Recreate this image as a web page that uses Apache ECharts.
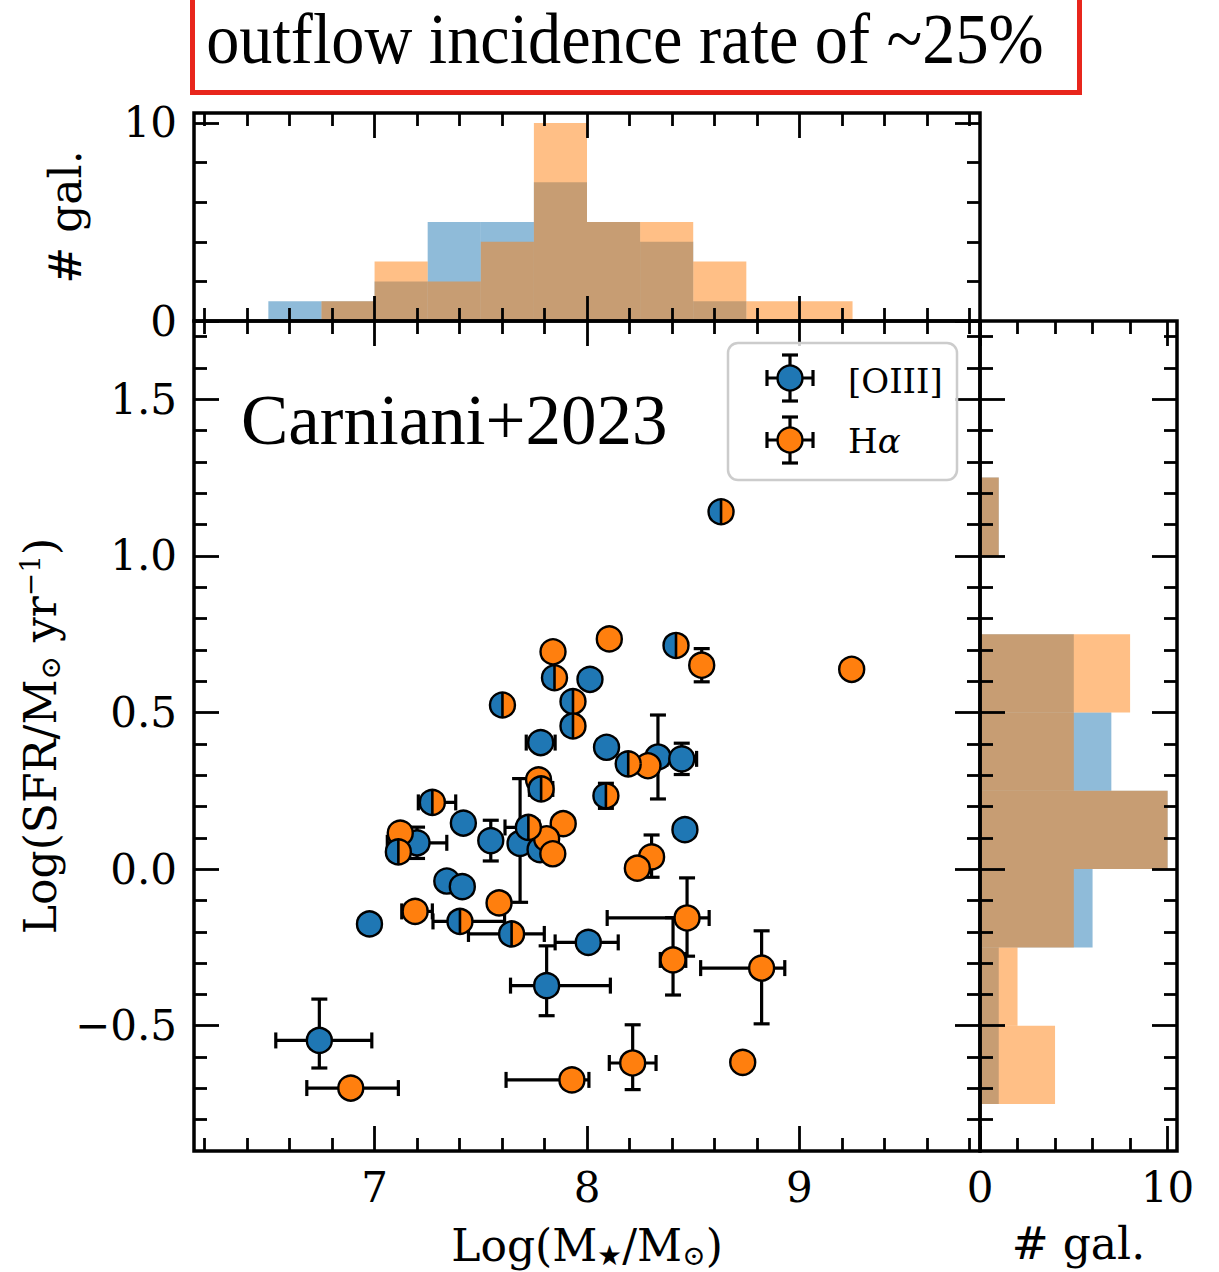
<!DOCTYPE html>
<html><head><meta charset="utf-8">
<script src="https://cdn.jsdelivr.net/npm/echarts@6/dist/echarts.min.js"></script>
<style>html,body{margin:0;padding:0;background:#fff}#c{width:1219px;height:1272px}</style>
</head><body><div id="c"></div>
<script>
// ---------------- data ----------------
// [OIII]-only points
const oiiiX = [8.014, 7.782, 8.092, 8.334, 8.446, 8.461, 7.418, 7.547, 7.685, 7.200, 7.340, 7.413, 6.976, 8.006, 7.810, 6.740, 7.779];
const oiiiY = [0.606, 0.404, 0.389, 0.358, 0.352, 0.126, 0.147, 0.091, 0.082, 0.084, -0.038, -0.056, -0.175, -0.234, -0.372, -0.547, 0.062];
const oiiiXErr = [[0,0],[0.068,0.068],[0,0],[0,0],[0.07,0.07],[0,0],[0,0],[0,0],[0,0],[0.14,0.14],[0,0],[0,0],[0,0],[0.156,0.141],[0.17,0.30],[0.205,0.247],[0,0]];
const oiiiYErr = [[0,0],[0,0],[0,0],[0.134,0.134],[0.05,0.05],[0,0],[0,0],[0.065,0.065],[0.188,0.207],[0.05,0.05],[0,0],[0,0],[0,0],[0,0],[0.096,0.127],[0.088,0.132],[0,0]];
// Halpha-only points
const haX = [9.246, 8.540, 8.105, 7.840, 7.772, 8.287, 7.888, 7.810, 7.839, 7.121, 8.304, 8.237, 7.586, 7.191, 8.471, 8.405, 8.822, 8.215, 8.733, 7.929, 6.888];
const haY = [0.638, 0.651, 0.735, 0.694, 0.285, 0.330, 0.145, 0.097, 0.049, 0.115, 0.039, 0.003, -0.108, -0.135, -0.156, -0.290, -0.316, -0.619, -0.617, -0.673, -0.699];
const haXErr = [[0,0],[0,0],[0,0],[0,0],[0,0],[0,0],[0,0],[0,0],[0,0],[0,0],[0,0],[0,0],[0,0],[0.063,0.081],[0.376,0.104],[0.06,0.06],[0.287,0.109],[0.11,0.11],[0,0],[0.31,0.08],[0.207,0.224]];
const haYErr = [[0,0],[0.053,0.053],[0,0],[0,0],[0,0],[0,0],[0,0],[0,0],[0,0],[0,0],[0.065,0.07],[0,0],[0,0],[0,0],[0.122,0.128],[0.112,0.135],[0.178,0.119],[0.085,0.122],[0,0],[0,0],[0,0]];
// points with both [OIII] and Halpha outflows (half-filled markers)
const bothX = [8.631, 8.419, 7.847, 7.934, 7.934, 7.602, 7.784, 8.194, 8.089, 7.272, 7.724, 7.112, 7.402, 7.645];
const bothY = [1.141, 0.714, 0.611, 0.535, 0.457, 0.524, 0.256, 0.336, 0.234, 0.213, 0.133, 0.055, -0.167, -0.207];
const bothXErr = [[0,0],[0,0],[0,0],[0,0],[0,0],[0,0],[0.055,0.055],[0,0],[0,0],[0.066,0.11],[0.11,0.05],[0,0],[0.127,0.21],[0.203,0.154]];
const bothYErr = [[0,0],[0,0],[0,0],[0,0],[0,0],[0,0],[0,0],[0,0],[0.04,0.04],[0,0],[0,0],[0,0],[0,0],[0,0]];

// histograms
const massBinEdges = [6.5, 6.75, 7.0, 7.25, 7.5, 7.75, 8.0, 8.25, 8.5, 8.75, 9.0, 9.25];
const oiiiMassCounts = [1, 1, 2, 5, 5, 7, 5, 4, 1, 0, 0];
const haMassCounts   = [0, 1, 3, 2, 4, 10, 5, 5, 3, 1, 1];
const sfrBinEdges = [-0.75, -0.5, -0.25, 0, 0.25, 0.5, 0.75, 1.0, 1.25];
const oiiiSfrCounts = [1, 1, 6, 10, 7, 5, 0, 1];
const haSfrCounts   = [4, 2, 5, 10, 5, 8, 0, 1];

// axes / ticks
const massRange = [6.15, 9.85];
const sfrRange = [-0.9, 1.75];
const countRange = [0, 10.5];
const massTicks = [7, 8, 9];
const sfrTicks = [-0.5, 0, 0.5, 1.0, 1.5];
const countTicks = [0, 10];
const countMinorTicks = [2, 4, 6, 8];

const titleText = 'outflow incidence rate of ~25%';
const refText = 'Carniani+2023';
const legendNames = ['[OIII]', 'Hα'];

// ---------------- styling ----------------
const BLUE = '#1f77b4', ORANGE = '#ff7f0e';
const BLUE_H = 'rgba(31,119,180,0.5)', ORANGE_H = 'rgba(255,127,14,0.5)';
const TICKFONT = 'DejaVu Serif';
const MAJ = 25, MIN = 13;

function minorTicks(a, b, step, majors) {
  const out = [];
  const n = Math.round((b - a) / step);
  for (let i = 0; i <= n; i++) {
    const v = Math.round((a + i * step) * 1000) / 1000;
    if (!majors.some(m => Math.abs(m - v) < 1e-6)) out.push(v);
  }
  return out;
}
const massMinorTicks = minorTicks(6.2, 9.8, 0.2, massTicks);
const sfrMinorTicks = minorTicks(-0.8, 1.7, 0.1, sfrTicks);

const grids = [], xAxes = [], yAxes = [];
function axisCfg(gridIndex, pos, range, ticks, len, label, extra) {
  return Object.assign({
    type: 'value', gridIndex: gridIndex, position: pos, min: range[0], max: range[1], z: 20,
    axisLine: { show: false, onZero: false },
    splitLine: { show: false },
    axisTick: { show: true, inside: true, length: len, customValues: ticks, lineStyle: { color: '#000', width: 2.8 } },
    axisLabel: label ? Object.assign({ show: true, customValues: ticks, color: '#000', fontFamily: TICKFONT, fontSize: 42 }, label) : { show: false }
  }, extra || {});
}
function panel(rect, xr, yr, xMaj, xMin, yMaj, yMin, o) {
  const gA = grids.length;
  const base = { containLabel: false, outerBoundsMode: 'none' };
  grids.push(Object.assign({ show: true, borderColor: '#000', borderWidth: 3.5, backgroundColor: 'transparent', z: 20 }, base, rect));
  grids.push(Object.assign({ show: false }, base, rect));
  const gB = gA + 1;
  const xi = xAxes.length, yi = yAxes.length;
  xAxes.push(axisCfg(gA, 'bottom', xr, xMaj, MAJ, o.xLabel, o.xName));
  xAxes.push(axisCfg(gA, 'top', xr, xMaj, MAJ));
  xAxes.push(axisCfg(gB, 'bottom', xr, xMin, MIN));
  xAxes.push(axisCfg(gB, 'top', xr, xMin, MIN));
  yAxes.push(axisCfg(gA, 'left', yr, yMaj, MAJ, o.yLabel, o.yName));
  yAxes.push(axisCfg(gA, 'right', yr, yMaj, MAJ));
  yAxes.push(axisCfg(gB, 'left', yr, yMin, MIN));
  yAxes.push(axisCfg(gB, 'right', yr, yMin, MIN));
  return { x: xi, y: yi };
}

const nameRich = {
  n: { fontFamily: TICKFONT, fontSize: 44, lineHeight: 48, color: '#000' },
  s: { fontFamily: TICKFONT, fontSize: 28, lineHeight: 28, verticalAlign: 'bottom', color: '#000' },
  p: { fontFamily: TICKFONT, fontSize: 28, lineHeight: 28, verticalAlign: 'top', color: '#000' }
};
function nameOpt(text, gap) {
  return { name: text, nameLocation: 'middle', nameGap: gap, nameTextStyle: { rich: nameRich } };
}
const fmtSfr = v => (v < 0 ? '\u2212' + Math.abs(v).toFixed(1) : v.toFixed(1));

const mainP = panel({ left: 194, top: 321, width: 786, height: 830 }, massRange, sfrRange, massTicks, massMinorTicks, sfrTicks, sfrMinorTicks, {
  xLabel: { margin: 15 }, yLabel: { margin: 17, formatter: fmtSfr },
  xName: nameOpt('{n|Log(M}{s|\u2605}{n|/M}{s|\u2299}{n|)}', 70),
  yName: nameOpt('{n|Log(SFR/M}{s|\u2299}{n| yr}{p|\u22121}{n|)}', 103)
});
const topP = panel({ left: 194, top: 113, width: 786, height: 208 }, massRange, countRange, massTicks, massMinorTicks, countTicks, countMinorTicks, {
  yLabel: { margin: 17 }, yName: nameOpt('{n|# gal.}', 105)
});
const rightP = panel({ left: 980, top: 321, width: 197, height: 830 }, countRange, sfrRange, countTicks, countMinorTicks, sfrTicks, sfrMinorTicks, {
  xLabel: { margin: 15 }, xName: nameOpt('{n|# gal.}', 68)
});

// ---------------- series ----------------
function histSeries(edges, counts, color, p, horizontal) {
  const data = counts.map((c, i) => [edges[i], edges[i + 1], c]).filter(d => d[2] > 0);
  return {
    type: 'custom', xAxisIndex: p.x, yAxisIndex: p.y, data: data, z: 2, silent: true,
    renderItem: function (params, api) {
      const a0 = api.value(0), a1 = api.value(1), c = api.value(2);
      let p1, p2;
      if (horizontal) { p1 = api.coord([0, a1]); p2 = api.coord([c, a0]); }
      else { p1 = api.coord([a0, c]); p2 = api.coord([a1, 0]); }
      return { type: 'rect', shape: { x: p1[0], y: p1[1], width: p2[0] - p1[0], height: p2[1] - p1[1] }, style: { fill: color } };
    }
  };
}
function errSeries(xs, ys, xe, ye, p) {
  const data = xs.map((x, i) => [x, ys[i], xe[i][0], xe[i][1], ye[i][0], ye[i][1]]);
  return {
    type: 'custom', xAxisIndex: p.x, yAxisIndex: p.y, data: data, z: 3, silent: true,
    renderItem: function (params, api) {
      const x = api.value(0), y = api.value(1);
      const ls = { stroke: '#000', lineWidth: 3.2 }, cap = 8, ch = [];
      const L = (a, b) => ({ type: 'line', shape: { x1: a[0], y1: a[1], x2: b[0], y2: b[1] }, style: ls });
      if (api.value(2) > 0 || api.value(3) > 0) {
        const a = api.coord([x - api.value(2), y]), b = api.coord([x + api.value(3), y]);
        ch.push(L(a, b), L([a[0], a[1] - cap], [a[0], a[1] + cap]), L([b[0], b[1] - cap], [b[0], b[1] + cap]));
      }
      if (api.value(4) > 0 || api.value(5) > 0) {
        const a = api.coord([x, y - api.value(4)]), b = api.coord([x, y + api.value(5)]);
        ch.push(L(a, b), L([a[0] - cap, a[1]], [a[0] + cap, a[1]]), L([b[0] - cap, b[1]], [b[0] + cap, b[1]]));
      }
      return { type: 'group', children: ch };
    }
  };
}
const R = 12.5;
function markerSeries(name, xs, ys, kind, p) {
  const data = xs.map((x, i) => [x, ys[i]]);
  return {
    type: 'custom', name: name, xAxisIndex: p.x, yAxisIndex: p.y, data: data, z: 4, silent: true,
    renderItem: function (params, api) {
      const c = api.coord([api.value(0), api.value(1)]);
      if (kind === 'both') {
        return { type: 'group', children: [
          { type: 'sector', shape: { cx: c[0], cy: c[1], r: R, r0: 0, startAngle: Math.PI / 2, endAngle: Math.PI * 1.5, clockwise: true }, style: { fill: BLUE } },
          { type: 'sector', shape: { cx: c[0], cy: c[1], r: R, r0: 0, startAngle: -Math.PI / 2, endAngle: Math.PI / 2, clockwise: true }, style: { fill: ORANGE } },
          { type: 'line', shape: { x1: c[0], y1: c[1] - R, x2: c[0], y2: c[1] + R }, style: { stroke: '#000', lineWidth: 2.6 } },
          { type: 'circle', shape: { cx: c[0], cy: c[1], r: R }, style: { fill: 'none', stroke: '#000', lineWidth: 2.4 } }
        ] };
      }
      return { type: 'circle', shape: { cx: c[0], cy: c[1], r: R }, style: { fill: kind === 'oiii' ? BLUE : ORANGE, stroke: '#000', lineWidth: 2.4 } };
    }
  };
}

const series = [
  histSeries(massBinEdges, oiiiMassCounts, BLUE_H, topP, false),
  histSeries(massBinEdges, haMassCounts, ORANGE_H, topP, false),
  histSeries(sfrBinEdges, oiiiSfrCounts, BLUE_H, rightP, true),
  histSeries(sfrBinEdges, haSfrCounts, ORANGE_H, rightP, true),
  errSeries(oiiiX, oiiiY, oiiiXErr, oiiiYErr, mainP),
  markerSeries(legendNames[0], oiiiX, oiiiY, 'oiii', mainP),
  errSeries(haX, haY, haXErr, haYErr, mainP),
  markerSeries(legendNames[1], haX, haY, 'ha', mainP),
  errSeries(bothX, bothY, bothXErr, bothYErr, mainP),
  markerSeries('both', bothX, bothY, 'both', mainP)
];

// ---------------- legend & annotations ----------------
function legendMark(cx, cy, color) {
  const ls = { stroke: '#000', lineWidth: 3.2 };
  const ln = (x1, y1, x2, y2) => ({ type: 'line', shape: { x1, y1, x2, y2 }, style: ls, z: 30 });
  return [
    ln(cx - 23, cy, cx + 23, cy), ln(cx - 23, cy - 8, cx - 23, cy + 8), ln(cx + 23, cy - 8, cx + 23, cy + 8),
    ln(cx, cy - 23, cx, cy + 23), ln(cx - 8, cy - 23, cx + 8, cy - 23), ln(cx - 8, cy + 23, cx + 8, cy + 23),
    { type: 'circle', shape: { cx, cy, r: R }, style: { fill: color, stroke: '#000', lineWidth: 2.4 }, z: 31 }
  ];
}
const graphic = [
  { type: 'rect', shape: { x: 192.5, y: -20, width: 887, height: 112.5 }, style: { fill: 'none', stroke: '#e8261c', lineWidth: 5 }, z: 30 },
  { type: 'text', x: 625, y: 39, scaleX: 0.92, scaleY: 1, z: 30, style: { text: titleText, font: '72px "Liberation Serif"', fill: '#000', align: 'center', verticalAlign: 'middle', textAlign: 'center', textVerticalAlign: 'middle' } },
  { type: 'text', x: 241, y: 420, z: 30, style: { text: refText, font: '71px "Liberation Serif"', fill: '#000', align: 'left', verticalAlign: 'middle', textAlign: 'left', textVerticalAlign: 'middle' } },
  { type: 'rect', shape: { x: 728, y: 343, width: 229, height: 137, r: 10 }, style: { fill: 'rgba(255,255,255,0.8)', stroke: '#cccccc', lineWidth: 2.5 }, z: 29 }
].concat(legendMark(790, 378, BLUE), legendMark(790, 440, ORANGE), [
  { type: 'text', x: 848, y: 381, z: 30, style: { text: legendNames[0], font: '34px "DejaVu Serif"', fill: '#000', align: 'left', verticalAlign: 'middle', textAlign: 'left', textVerticalAlign: 'middle' } },
  { type: 'text', x: 848, y: 441, z: 30, style: { text: '{a|H}{b|\u03b1}', rich: { a: { font: '34px "DejaVu Serif"', fill: '#000', color: '#000' }, b: { font: 'italic 34px "DejaVu Serif"', fill: '#000', color: '#000' } }, align: 'left', verticalAlign: 'middle', textAlign: 'left', textVerticalAlign: 'middle' } }
]);

const chart = echarts.init(document.getElementById('c'), null, { renderer: 'svg' });
chart.setOption({
  backgroundColor: '#fff',
  animation: false,
  grid: grids,
  xAxis: xAxes,
  yAxis: yAxes,
  series: series,
  graphic: graphic
});
</script></body></html>
